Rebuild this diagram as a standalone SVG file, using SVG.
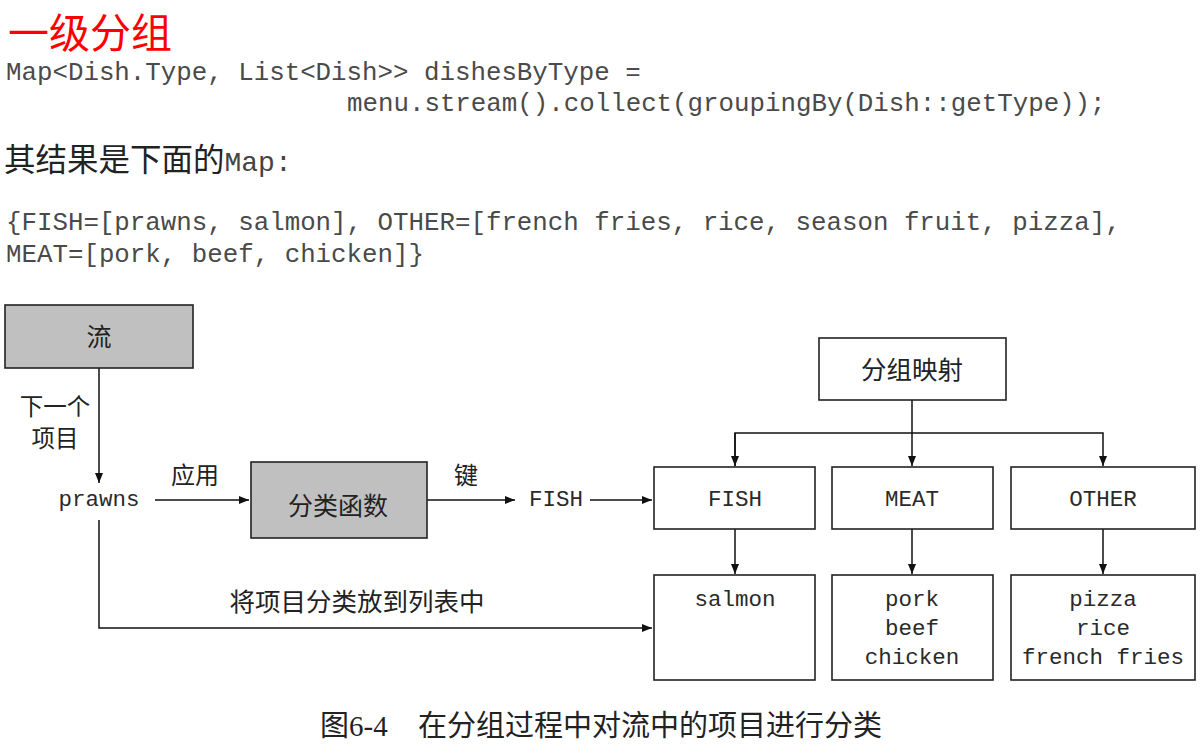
<svg xmlns="http://www.w3.org/2000/svg" width="1202" height="748" viewBox="0 0 1202 748">
<style>
.code{font-family:"Liberation Mono","Noto Sans CJK SC",monospace;fill:#4a4a4a;font-size:25.8px}
.cjk{font-family:"Noto Sans CJK SC",sans-serif;fill:#222}
.mono{font-family:"Liberation Mono",monospace;fill:#2a2a2a;font-size:22.5px}
.box{stroke:#222;stroke-width:1.6}
.gray{fill:#c0c0c0}
.white{fill:#fff}
.ln{stroke:#111;stroke-width:1.5;fill:none}
</style>
<defs>
<marker id="ah" viewBox="0 0 10 8" refX="10" refY="4" markerWidth="10" markerHeight="8" markerUnits="userSpaceOnUse" orient="auto">
<path d="M0,0 L10,4 L0,8 Z" fill="#111"/>
</marker>
</defs>
<rect width="1202" height="748" fill="#fff"/>
<text x="8" y="48" font-family="Noto Sans CJK SC,sans-serif" font-size="41" fill="#f00">一级分组</text>
<text class="code" x="6" y="80">Map&lt;Dish.Type, List&lt;Dish&gt;&gt; dishesByType =</text>
<text class="code" x="347" y="111">menu.stream().collect(groupingBy(Dish::getType));</text>
<text x="4" y="171" class="cjk" font-size="31.5">其结果是下面的<tspan font-family="Liberation Mono,monospace" font-size="28" fill="#444">Map:</tspan></text>
<text class="code" x="6" y="230">{FISH=[prawns, salmon], OTHER=[french fries, rice, season fruit, pizza],</text>
<text class="code" x="6" y="262">MEAT=[pork, beef, chicken]}</text>

<g id="connectors">
<path class="ln" d="M99,368 V483" marker-end="url(#ah)"/>
<path class="ln" d="M155,500 H249" marker-end="url(#ah)"/>
<path class="ln" d="M427,500 H515" marker-end="url(#ah)"/>
<path class="ln" d="M590,500 H652" marker-end="url(#ah)"/>
<path class="ln" d="M912,400 V466" marker-end="url(#ah)"/>
<path class="ln" d="M735,466 V433 H1103 V466" marker-end="url(#ah)"/>
<path class="ln" d="M735,433 V466" marker-end="url(#ah)"/>
<path class="ln" d="M735,529 V574" marker-end="url(#ah)"/>
<path class="ln" d="M912,529 V574" marker-end="url(#ah)"/>
<path class="ln" d="M1103,529 V574" marker-end="url(#ah)"/>
<path class="ln" d="M99,520 V628 H652" marker-end="url(#ah)" stroke-width="2"/>
<text class="cjk" x="55" y="415" font-size="23.5" text-anchor="middle">下一个</text>
<text class="cjk" x="55" y="447" font-size="23.5" text-anchor="middle">项目</text>
<text class="cjk" x="195" y="484" font-size="24" text-anchor="middle">应用</text>
<text class="cjk" x="466" y="484" font-size="24" text-anchor="middle">键</text>
<text class="cjk" x="357" y="611" font-size="25.5" text-anchor="middle">将项目分类放到列表中</text>
</g>

<g id="stream">
<rect class="box gray" x="5" y="305" width="188" height="63"/>
<text class="cjk" x="99" y="346" font-size="25" text-anchor="middle">流</text>
</g>
<g id="prawns">
<text class="mono" x="99" y="506" text-anchor="middle">prawns</text>
</g>
<g id="classifier">
<rect class="box gray" x="251" y="462" width="176" height="76"/>
<text class="cjk" x="338" y="515" font-size="25" text-anchor="middle">分类函数</text>
</g>
<g id="key-fish">
<text class="mono" x="556" y="506" text-anchor="middle">FISH</text>
</g>
<g id="map">
<rect class="box white" x="819" y="338" width="187" height="62"/>
<text class="cjk" x="912" y="379" font-size="25.5" text-anchor="middle">分组映射</text>
</g>
<g id="key-FISH">
<rect class="box white" x="654" y="467" width="161" height="62"/>
<text class="mono" x="735" y="506" text-anchor="middle">FISH</text>
</g>
<g id="key-MEAT">
<rect class="box white" x="832" y="467" width="161" height="62"/>
<text class="mono" x="912" y="506" text-anchor="middle">MEAT</text>
</g>
<g id="key-OTHER">
<rect class="box white" x="1011" y="467" width="184" height="62"/>
<text class="mono" x="1103" y="506" text-anchor="middle">OTHER</text>
</g>
<g id="list-fish">
<rect class="box white" x="654" y="575" width="161" height="105"/>
<text class="mono" x="735" y="606" text-anchor="middle">salmon</text>
</g>
<g id="list-meat">
<rect class="box white" x="832" y="575" width="161" height="105"/>
<text class="mono" x="912" y="606" text-anchor="middle">pork</text>
<text class="mono" x="912" y="635" text-anchor="middle">beef</text>
<text class="mono" x="912" y="664" text-anchor="middle">chicken</text>
</g>
<g id="list-other">
<rect class="box white" x="1011" y="575" width="184" height="105"/>
<text class="mono" x="1103" y="606" text-anchor="middle">pizza</text>
<text class="mono" x="1103" y="635" text-anchor="middle">rice</text>
<text class="mono" x="1103" y="664" text-anchor="middle">french fries</text>
</g>
<text x="320" y="736" font-family="Liberation Serif,Noto Sans CJK SC,serif" font-size="29" fill="#222">图6-4<tspan x="418">在分组过程中对流中的项目进行分类</tspan></text>
</svg>
